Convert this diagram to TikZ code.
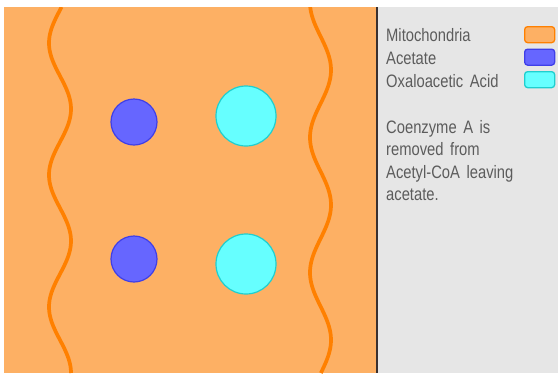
\documentclass[tikz,border=0pt]{standalone}
\usepackage{fontspec}
\setmainfont{Liberation Sans}[FakeStretch=0.82,WordSpace=1.6]
\definecolor{bgorange}{HTML}{FDB064}
\definecolor{orangeS}{HTML}{FF8000}
\definecolor{blueF}{HTML}{6666FF}
\definecolor{blueS}{HTML}{3F3FE8}
\definecolor{cyanF}{HTML}{66FFFF}
\definecolor{cyanS}{HTML}{1FCFCF}
\definecolor{panelgray}{HTML}{E6E6E6}
\definecolor{txtgray}{HTML}{5C5C5C}
\definecolor{divider}{HTML}{3A3030}
\begin{document}
\begin{tikzpicture}[x=1pt,y=-1pt,
  acet/.style={circle,draw=blueS,fill=blueF,line width=1.2pt,minimum size=46pt,inner sep=0pt},
  oxa/.style={circle,draw=cyanS,fill=cyanF,line width=1.2pt,minimum size=60pt,inner sep=0pt},
  membrane/.style={draw=orangeS,line width=3.7pt},
  swatch/.style={rounded corners=3pt,line width=1.3pt,minimum width=30pt,minimum height=16pt,inner sep=0pt,anchor=north west},
  legtext/.style={anchor=base west,inner sep=0pt,text=txtgray,font=\fontsize{18}{22.5}\selectfont},
]
\useasboundingbox (0,0) rectangle (558,373);
\fill[bgorange] (4,7) rectangle (377,373);
\fill[panelgray] (377,7) rectangle (558,373);
\begin{scope}
  \clip (4,7) rectangle (377,373);
  \draw[membrane] plot[domain=7:373,samples=150,smooth] ({60-11*cos((\x-43)/132*360)},\x);
  \draw[membrane] plot[domain=7:373,samples=150,smooth] ({320.5+10.5*cos((\x-70)/135*360)},\x);
\end{scope}
\node[acet] (a1) at (134,122) {};
\node[acet] (a2) at (134,259) {};
\node[oxa] (o1) at (246,116) {};
\node[oxa] (o2) at (246,264) {};
\draw[line width=1.5pt,divider] (377,7) -- (377,373);
\node[legtext] (l1) at (386,41.7) {Mitochondria};
\node[legtext] (l2) at (386,64.5) {Acetate};
\node[legtext] (l3) at (386,87) {Oxaloacetic Acid};
\node[swatch,draw=orangeS,fill=bgorange] (s1) at (524,26) {};
\node[swatch,draw=blueS,fill=blueF] (s2) at (524,48.5) {};
\node[swatch,draw=cyanS,fill=cyanF] (s3) at (524,71) {};
\node[legtext] (n1) at (386,133) {Coenzyme A is};
\node[legtext] (n2) at (386,155.5) {removed from};
\node[legtext] (n3) at (386,178) {Acetyl-CoA leaving};
\node[legtext] (n4) at (386,200.5) {acetate.};
\end{tikzpicture}
\end{document}
